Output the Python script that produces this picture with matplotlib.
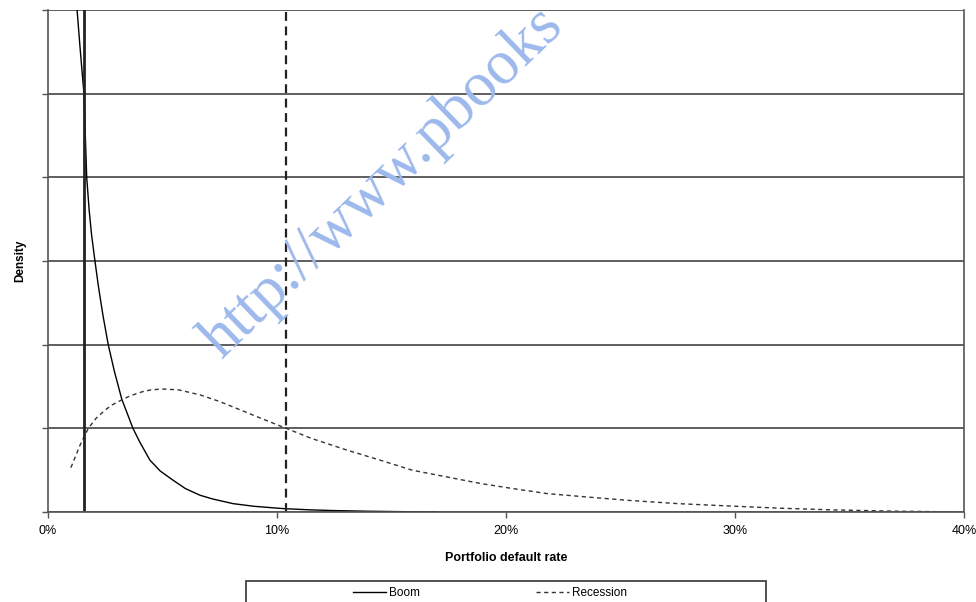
import matplotlib
matplotlib.use('Agg')
import matplotlib.pyplot as plt
from matplotlib.patches import Rectangle
from matplotlib.ticker import FuncFormatter

plt.rcParams['font.family'] = ['Liberation Sans', 'DejaVu Sans']

# Boom density (default rate in %, density in grid units)
boom_x = [1.27, 1.4, 1.57, 1.69, 1.8, 1.9, 2.05, 2.2, 2.4, 2.63, 2.9, 3.22, 3.5, 3.71, 4.0,
          4.45, 4.9, 5.46, 6.0, 6.64, 7.2, 8.08, 9.0, 10.3, 11.5, 12.5, 14.0, 15.5, 17.0]
boom_y = [6.0, 5.55, 5.0, 4.0, 3.6, 3.32, 3.0, 2.7, 2.35, 2.0, 1.68, 1.35, 1.15, 1.0, 0.84,
          0.62, 0.49, 0.38, 0.28, 0.20, 0.155, 0.10, 0.068, 0.04, 0.025, 0.017, 0.009, 0.004, 0.0]

# Recession density
rec_x = [1.0, 1.4, 1.76, 2.1, 2.5, 2.8, 3.22, 3.6, 4.15, 4.5, 5.0, 5.7, 6.64, 7.5, 8.4, 9.3,
         10.4, 11.5, 13.05, 14.5, 15.9, 17.4, 18.9, 20.3, 21.8, 23.5, 25.3, 27.5, 29.9, 32.0,
         34.3, 37.0, 40.0]
rec_y = [0.53, 0.8, 1.0, 1.12, 1.22, 1.28, 1.34, 1.39, 1.44, 1.46, 1.47, 1.46, 1.40, 1.32, 1.22,
         1.12, 1.0, 0.88, 0.74, 0.62, 0.50, 0.42, 0.34, 0.28, 0.22, 0.18, 0.14, 0.10, 0.07, 0.045,
         0.025, 0.01, 0.0]

# Vertical markers (expected default rates)
boom_mark = 1.57
rec_mark = 10.4

fig = plt.figure(figsize=(9.76, 6.02), dpi=100)
ax = fig.add_axes([48 / 976, 90 / 602, 916 / 976, 502 / 602])

ax.plot(boom_x, boom_y, color='black', lw=1.0, label='Boom')
ax.plot(rec_x, rec_y, color='#333333', lw=1.0, ls=(0, (3, 2.5)), label='Recession')
ax.axvline(boom_mark, color='#222222', lw=2.0)
ax.axvline(rec_mark, color='#222222', lw=1.6, ls=(0, (4, 2.5)))

ax.set_xlim(0, 40)
ax.set_ylim(0, 6)
ax.set_xticks([0, 10, 20, 30, 40])
ax.xaxis.set_major_formatter(FuncFormatter(lambda v, p: f'{v:.0f}%'))
ax.set_yticks(range(7))
ax.set_yticklabels([])
ax.yaxis.grid(True, color='#333333', lw=1.1)
ax.set_axisbelow(True)
ax.tick_params(axis='both', direction='out', length=4, width=1, color='#555555', labelsize=9)
ax.tick_params(axis='x', pad=5)
for s in ['left', 'right', 'bottom']:
    ax.spines[s].set_color('#555555')
    ax.spines[s].set_linewidth(1.2)
ax.spines['top'].set_visible(False)

ax.set_xlabel('Portfolio default rate', fontsize=9, fontweight='bold', labelpad=11)
ax.set_ylabel('Density', fontsize=8.5, fontweight='bold', labelpad=8)

# legend box at the bottom
fig.patches.append(Rectangle((246 / 976, -0.02), 520 / 976, (602 - 581) / 602 + 0.02,
                             transform=fig.transFigure, fill=False, ec='#333333', lw=1.2))
fig.legend(handles=ax.get_lines()[:2], loc='center', bbox_to_anchor=(490 / 976, 9 / 602),
           ncol=2, frameon=False, fontsize=8.5, handlelength=2.8, handletextpad=0.3,
           columnspacing=9.8)

# watermark
fig.text(222 / 976, 1 - 360 / 602, 'http://www.pbooks', rotation=44, rotation_mode='anchor',
         ha='left', va='baseline', fontsize=45, color='#9db9ec', family='Liberation Serif')

fig.savefig('out.png', dpi=100)
